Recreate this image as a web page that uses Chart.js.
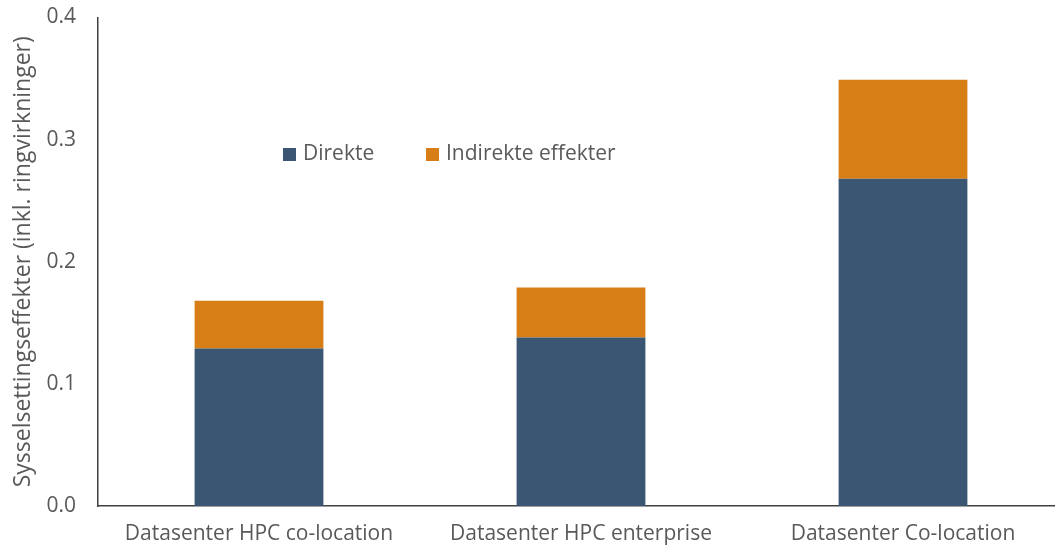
<!DOCTYPE html>
<html>
<head>
<meta charset="utf-8">
<script src="https://cdn.jsdelivr.net/npm/chart.js@4"></script>
<style>
  html, body { margin: 0; padding: 0; background: #fff; overflow: hidden; }
  #wrap { width: 1064px; height: 550px; position: relative; }
</style>
</head>
<body>
<div id="wrap"><canvas id="chart"></canvas></div>
<script>
const categories = ["Datasenter HPC co-location", "Datasenter HPC enterprise", "Datasenter Co-location"];
const direkte = [0.129, 0.138, 0.268];
const indirekte = [0.039, 0.041, 0.081];
const seriesNames = ["Direkte", "Indirekte effekter"];
const seriesColors = ["#3a5672", "#d77e17"];

const FONT = "'Open Sans', sans-serif";
const GREY = "#595959";

// legend drawn inside the plot area
const innerLegend = {
  id: "innerLegend",
  afterDraw(chart) {
    const ctx = chart.ctx;
    const pos = [283, 426];
    ctx.save();
    ctx.font = "21px " + FONT;
    ctx.textBaseline = "middle";
    chart.data.datasets.forEach((ds, i) => {
      ctx.fillStyle = ds.backgroundColor;
      ctx.fillRect(pos[i], 148, 13, 13);
      ctx.fillStyle = GREY;
      ctx.fillText(ds.label, pos[i] + 20, 154.5);
    });
    ctx.restore();
  }
};

new Chart(document.getElementById("chart"), {
  type: "bar",
  data: {
    labels: categories,
    datasets: [
      { label: seriesNames[0], data: direkte, backgroundColor: seriesColors[0] },
      { label: seriesNames[1], data: indirekte, backgroundColor: seriesColors[1] }
    ]
  },
  options: {
    responsive: true,
    maintainAspectRatio: false,
    animation: false,
    barPercentage: 0.4,
    categoryPercentage: 1,
    layout: { padding: { top: 17.5, left: 0, right: 0, bottom: 0 } },
    plugins: {
      legend: { display: false },
      tooltip: { enabled: false }
    },
    scales: {
      x: {
        stacked: true,
        grid: { display: false, drawTicks: false },
        border: { color: "#404040", width: 1.5 },
        ticks: { color: GREY, font: { family: FONT, size: 21 }, padding: 15, maxRotation: 0 },
        afterFit(s) { s.height = 44; }
      },
      y: {
        stacked: true,
        min: 0,
        max: 0.4,
        grid: { display: false, drawTicks: false },
        border: { color: "#404040", width: 1.5 },
        ticks: {
          stepSize: 0.1,
          color: GREY,
          padding: 22,
          font: { family: FONT, size: 21 },
          callback: v => v.toFixed(1)
        },
        title: {
          display: true,
          text: "Sysselsettingseffekter (inkl. ringvirkninger)",
          color: GREY,
          font: { family: FONT, size: 23 },
          padding: { top: 10, bottom: 0 }
        },
        afterFit(s) {
          s.width = 98;
          // keep the plot top fixed, tick labels may overhang
          s.paddingTop = 0;
          s.paddingBottom = 0;
        }
      }
    }
  },
  plugins: [innerLegend]
});
</script>
</body>
</html>
